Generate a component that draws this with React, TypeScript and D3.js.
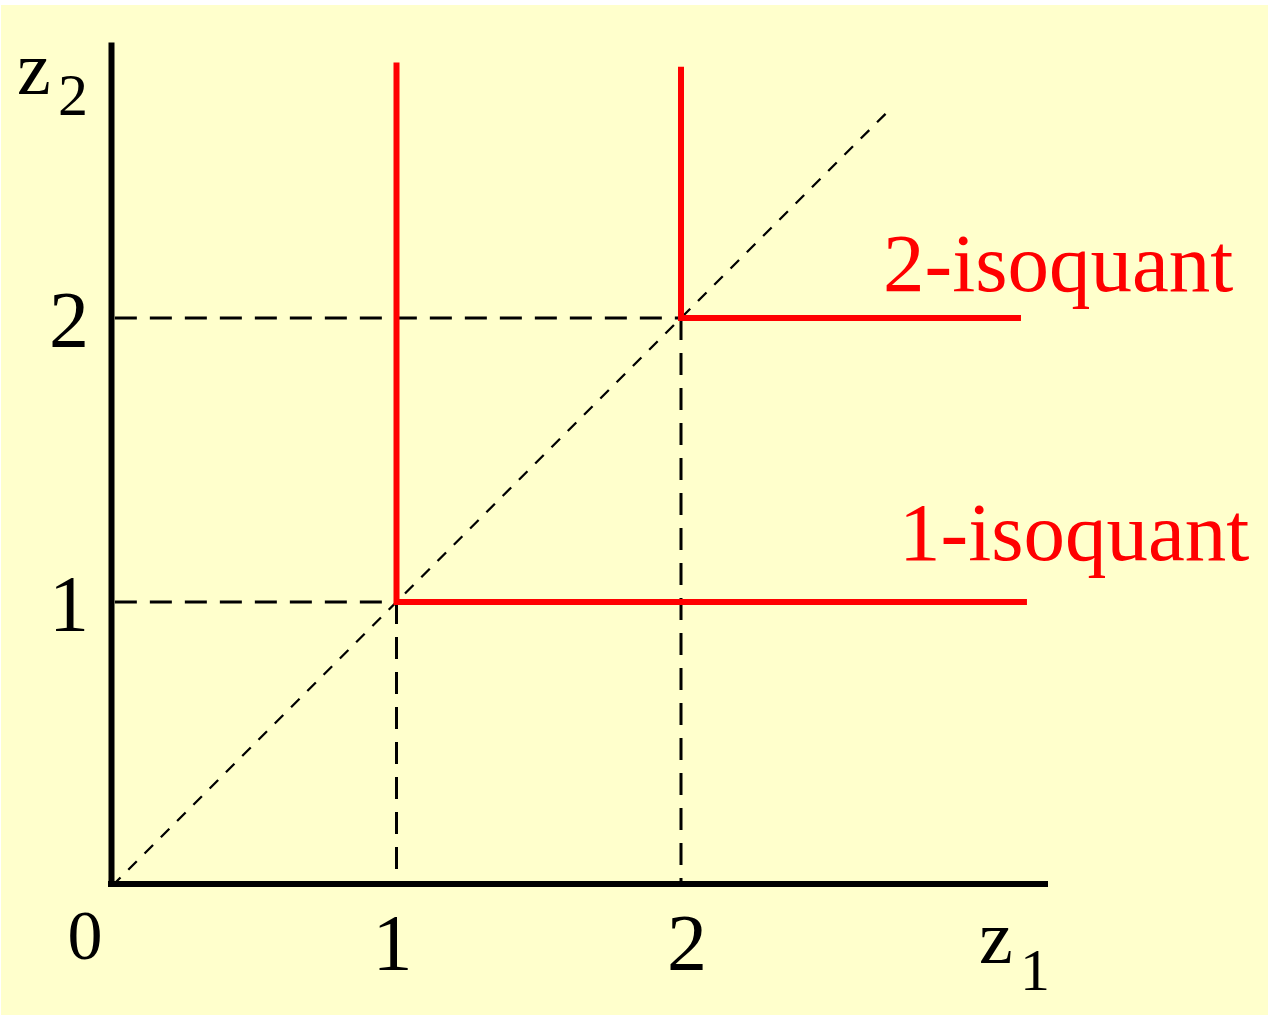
import React from "react";
import * as d3 from "d3";

const tickValues = [1, 2];
const isoquantLevels = [1, 2];
const isoquantLabels = ["1-isoquant", "2-isoquant"];
const isoquantTop = [2.9, 2.885];
const isoquantEnd = [3.216, 3.195];
const rayEnd = 2.722;
const xAxisEnd = 3.29;
const yAxisTop = 2.97;

const W = 1268;
const H = 1016;
const FONT = "'Liberation Serif', 'Times New Roman', serif";

export default function App() {
  const x = d3.scaleLinear().domain([0, 1]).range([112, 396.5]);
  const y = d3.scaleLinear().domain([0, 1]).range([886, 602]);
  const line = d3.line<[number, number]>().x((d) => x(d[0])).y((d) => y(d[1]));

  return (
    <svg
      width={W}
      height={H}
      style={{ position: "fixed", left: 0, top: 0, display: "block" }}
    >
      <rect x={0} y={0} width={W} height={H} fill="#ffffff" />
      <rect x={1} y={5} width={W - 1} height={1010} fill="#ffffcc" />

      {/* diagonal ray */}
      <path
        d={line([[0, 0], [rayEnd, rayEnd]]) || ""}
        stroke="#000"
        strokeWidth={2.3}
        strokeDasharray="12,11"
        fill="none"
      />

      {/* dashed guides */}
      {tickValues.map((k) => (
        <g key={"g" + k}>
          <path
            d={line([[0.01, k], [k, k]]) || ""}
            stroke="#000"
            strokeWidth={3}
            strokeDasharray="22,13"
            fill="none"
          />
          <path
            d={line([[k, k], [k, 0]]) || ""}
            stroke="#000"
            strokeWidth={3}
            strokeDasharray="22,13"
            fill="none"
          />
        </g>
      ))}

      {/* isoquants */}
      {isoquantLevels.map((k, i) => (
        <path
          key={"iso" + k}
          d={line([[k, isoquantTop[i]], [k, k], [isoquantEnd[i], k]]) || ""}
          stroke="#ff0000"
          strokeWidth={6}
          strokeLinejoin="miter"
          fill="none"
        />
      ))}

      {/* axes */}
      <line x1={x(0) - 0.5} x2={x(0) - 0.5} y1={y(yAxisTop)} y2={y(0) + 1} stroke="#000" strokeWidth={6} />
      <line x1={x(0) - 4} x2={x(xAxisEnd)} y1={y(0) - 2} y2={y(0) - 2} stroke="#000" strokeWidth={6} />

      {/* tick labels */}
      <g fontFamily={FONT} fontSize={80} fill="#000">
        {tickValues.map((k) => (
          <text key={"yl" + k} x={69} y={y(k) + 29} textAnchor="middle">
            {k}
          </text>
        ))}
        {tickValues.map((k) => (
          <text key={"xl" + k} x={x(k) + (k === 2 ? 6 : -4)} y={970} textAnchor="middle">
            {k}
          </text>
        ))}
        <text x={85} y={959} textAnchor="middle" fontSize={70}>0</text>
      </g>

      {/* axis titles */}
      <g fontFamily={FONT} fill="#000">
        <text x={17} y={94} fontSize={76}>z</text>
        <text x={58} y={115} fontSize={60}>2</text>
        <text x={979} y={963} fontSize={76}>z</text>
        <text x={1020} y={990} fontSize={60}>1</text>
      </g>

      {/* isoquant labels */}
      <g fontFamily={FONT} fontSize={83} fill="#ff0000">
        {isoquantLevels.map((k, i) => (
          <text key={"lab" + k} x={k === 2 ? 883 : 899} y={k === 2 ? 291 : 560}>
            {isoquantLabels[i]}
          </text>
        ))}
      </g>
    </svg>
  );
}
